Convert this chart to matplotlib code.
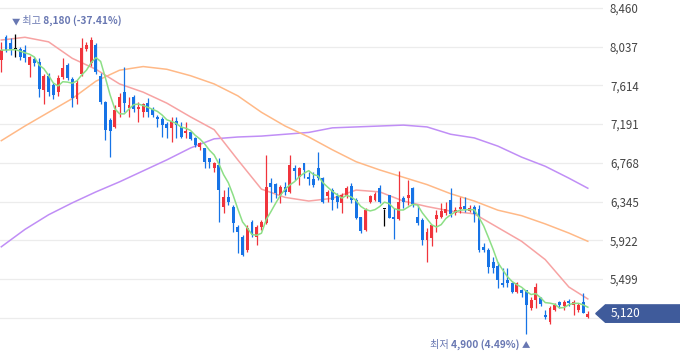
import numpy as np
import pandas as pd
import matplotlib
matplotlib.use("Agg")
import matplotlib.pyplot as plt
from matplotlib.patches import Polygon
from matplotlib.ticker import FixedLocator, FuncFormatter

plt.rcParams['font.family'] = ['Noto Sans CJK KR', 'DejaVu Sans']

# daily candles, oldest first
opens = [7890, 8140, 8080, 8010, 8010, 8000, 7840, 7900, 7870, 7560,
         7720, 7620, 7540, 7710, 7840, 7680, 7470, 7740, 8010, 7860,
         8060, 7720, 7430, 7240, 7160, 7380, 7540, 7370, 7490, 7360,
         7320, 7420, 7360, 7270, 7250, 7190, 7150, 7230, 7160, 7090,
         7100, 7040, 6940, 6930, 6820, 6710, 6740, 6290, 6390, 6290,
         6070, 5960, 5820, 6120, 5960, 6070, 6110, 6550, 6540, 6420,
         6500, 6450, 6710, 6610, 6770, 6610, 6590, 6710, 6600, 6410,
         6470, 6410, 6330, 6410, 6510, 6360, 6180, 6030, 6340, 6360,
         6490, 6260, 6420, 6180, 6150, 6380, 6380, 6490, 6180, 6140,
         5920, 5950, 6150, 6180, 6220, 6360, 6220, 6260, 6300, 6240,
         6290, 6260, 5850, 5820, 5680, 5640, 5450, 5490, 5450, 5360,
         5380, 5380, 5180, 5270, 5290, 5100, 5030, 5160, 5250, 5200,
         5260, 5210, 5160, 5250, 5080]
highs = [8090, 8170, 8130, 8180, 8030, 8060, 7940, 7920, 7910, 7740,
         7750, 7640, 7730, 7910, 7860, 7710, 7670, 8130, 8090, 8140,
         8080, 7750, 7440, 7260, 7400, 7530, 7820, 7490, 7510, 7430,
         7420, 7480, 7380, 7290, 7270, 7210, 7270, 7270, 7210, 7210,
         7120, 7050, 7000, 6930, 6820, 6780, 6820, 6470, 6500, 6310,
         6090, 5980, 6090, 6140, 6090, 6140, 6850, 6600, 6550, 6530,
         6560, 6850, 6740, 6720, 6770, 6670, 6670, 6890, 6610, 6470,
         6490, 6440, 6440, 6510, 6550, 6380, 6180, 6270, 6420, 6450,
         6530, 6260, 6420, 6270, 6680, 6410, 6580, 6500, 6310, 6170,
         6060, 6090, 6250, 6330, 6340, 6490, 6290, 6390, 6390, 6310,
         6310, 6310, 5890, 5840, 5740, 5680, 5620, 5620, 5470, 5470,
         5390, 5380, 5300, 5450, 5300, 5160, 5200, 5240, 5260, 5270,
         5280, 5270, 5240, 5350, 5150]
lows = [7760, 7980, 7950, 7920, 7890, 7870, 7710, 7830, 7490, 7410,
        7500, 7470, 7500, 7680, 7670, 7380, 7410, 7720, 7990, 7830,
        7740, 7410, 7020, 6830, 7150, 7270, 7320, 7270, 7320, 7210,
        7270, 7270, 7270, 7160, 7050, 7040, 7000, 7040, 7040, 7040,
        7020, 6940, 6910, 6710, 6710, 6670, 6120, 6220, 6310, 6010,
        5780, 5750, 5790, 5960, 5870, 6030, 6100, 6340, 6380, 6330,
        6420, 6440, 6580, 6530, 6600, 6530, 6500, 6580, 6330, 6340,
        6250, 6270, 6220, 6380, 6330, 6150, 6000, 6020, 6330, 6350,
        6330, 6080, 6170, 5940, 6140, 6270, 6310, 6290, 6090, 5870,
        5680, 5860, 6010, 6170, 6200, 6180, 6200, 6220, 6230, 6230,
        6120, 5790, 5790, 5560, 5560, 5400, 5410, 5410, 5350, 5350,
        5300, 4900, 5160, 5180, 5200, 5060, 5010, 5150, 5180, 5160,
        5200, 5100, 5140, 5130, 5070]
closes = [8000, 8000, 8010, 8010, 7920, 7910, 7920, 7860, 7570, 7720,
          7540, 7510, 7700, 7800, 7700, 7480, 7640, 8020, 8060, 8110,
          7760, 7430, 7130, 7120, 7350, 7490, 7420, 7400, 7360, 7380,
          7410, 7320, 7290, 7250, 7180, 7150, 7230, 7180, 7050, 7120,
          7030, 6960, 6980, 6780, 6780, 6770, 6470, 6390, 6340, 6110,
          6010, 5760, 6060, 5980, 6070, 6120, 6500, 6500, 6440, 6500,
          6450, 6740, 6680, 6710, 6690, 6590, 6530, 6600, 6340, 6450,
          6360, 6340, 6420, 6490, 6360, 6170, 6020, 6250, 6410, 6430,
          6340, 6260, 6170, 6150, 6340, 6340, 6420, 6320, 6110, 5920,
          6010, 6090, 6200, 6240, 6260, 6210, 6250, 6290, 6260, 6270,
          6210, 5820, 5820, 5630, 5620, 5490, 5430, 5450, 5360, 5450,
          5350, 5210, 5270, 5410, 5230, 5080, 5180, 5210, 5210, 5250,
          5240, 5250, 5210, 5130, 5120]

# moving averages (20, 60 and 120 day)
ma_idx = [0, 5, 10, 15, 20, 25, 30, 35, 40, 45, 50, 55, 60,
          65, 70, 75, 80, 85, 90, 95, 100, 105, 110, 115, 120, 124]
ma20 = [8110, 8140, 8090, 7910, 7790, 7630, 7540, 7420, 7270, 7130, 6800, 6480, 6390,
        6350, 6380, 6470, 6450, 6350, 6290, 6240, 6210, 6060, 5910, 5710, 5410, 5280]
ma60 = [7010, 7170, 7320, 7470, 7660, 7780, 7820, 7790, 7720, 7630, 7500, 7320, 7170,
        7050, 6910, 6780, 6690, 6610, 6530, 6430, 6350, 6250, 6190, 6100, 6000, 5910]
ma120 = [5850, 6040, 6200, 6330, 6450, 6560, 6680, 6800, 6930, 7030, 7050, 7060, 7080,
         7100, 7150, 7160, 7170, 7180, 7160, 7080, 7040, 6950, 6830, 6730, 6600, 6490]

y_ticks = [8460, 8037, 7614, 7191, 6768, 6345, 5922, 5499, 5076]
last_price = 5120
high_price, high_pct = 8180, -37.41
low_price, low_pct = 4900, 4.49

RED = '#f0343c'
BLUE = '#1673e6'
NOTE = '#6877b2'
TAG = '#3f5b9b'

fig = plt.figure(figsize=(6.8, 3.58), dpi=100)
ax = fig.add_axes([0, 0, 603 / 680, 1])

n = len(closes)
x = np.arange(n)
o, h, l, c = map(np.array, (opens, highs, lows, closes))
colors = np.where(c > o, RED, np.where(c < o, BLUE, '#000000'))

# grid
for t in y_ticks:
    ax.axhline(t, color='#ececec', lw=0.9, zorder=0)

# moving averages
ma5 = pd.Series(closes).rolling(5, min_periods=1).mean()
line_kw = dict(lw=1.1, solid_joinstyle='round')
ax.plot(ma_idx, ma120, color='#c08ef6', zorder=1, **line_kw)
ax.plot(ma_idx, ma60, color='#ffb987', zorder=1, **line_kw)
ax.plot(ma_idx, ma20, color='#f7a3a3', zorder=1, **line_kw)
ax.plot(x, ma5, color='#8ddf86', zorder=3, **line_kw)

# candles
ax.vlines(x, l, h, colors=colors, lw=0.9, zorder=2)
body = np.maximum(np.abs(c - o), 10)
ax.bar(x, body, bottom=np.minimum(o, c), width=0.62, color=colors, lw=0, zorder=2)

ax.set_xlim(-1.3 / 4.73, 601.7 / 4.73)
ax.set_ylim(8547.4 - 10.93 * 358, 8547.4)

# last grid line sits under the price tag, so it gets no label
ax.yaxis.tick_right()
ax.yaxis.set_major_locator(FixedLocator(y_ticks))
ax.yaxis.set_major_formatter(FuncFormatter(lambda v, p: '' if v == y_ticks[-1] else f'{v:,.0f}'))
ax.tick_params(axis='y', length=0, pad=5, labelsize=8.3, labelcolor='#444444')
ax.set_xticks([])
for s in ax.spines.values():
    s.set_visible(False)

# highest / lowest notes
hi_i = int(np.argmax(h))
t0 = ax.annotate('▼', xy=(hi_i, high_price), xytext=(-2.5, 5.5), textcoords='offset points',
                 ha='left', va='bottom', fontsize=6, color=NOTE)
t1 = ax.annotate(' 최고', xy=(1, 0), xycoords=t0, ha='left', va='bottom', fontsize=7.3, color=NOTE)
ax.annotate(f' {high_price:,} ({high_pct:.2f}%)', xy=(1, 0), xycoords=t1,
            ha='left', va='bottom', fontsize=7.3, color=NOTE, fontweight='bold')

lo_i = int(np.argmin(l))
t2 = ax.annotate('▲', xy=(lo_i, low_price), xytext=(3, -5), textcoords='offset points',
                 ha='right', va='top', fontsize=6, color=NOTE)
t3 = ax.annotate(f'{low_price:,} ({low_pct:.2f}%) ', xy=(0, 0), xycoords=t2,
                 ha='right', va='bottom', fontsize=7.3, color=NOTE, fontweight='bold')
ax.annotate('최저 ', xy=(0, 0), xycoords=t3, ha='right', va='bottom', fontsize=7.3, color=NOTE)

# current price tag
trans = ax.get_yaxis_transform()
half = 95
tag = Polygon([(0.988, last_price), (1.004, last_price + half), (1.13, last_price + half),
               (1.13, last_price - half), (1.004, last_price - half)],
              closed=True, transform=trans, clip_on=False, color=TAG, zorder=5)
ax.add_patch(tag)
ax.text(1.012, last_price, f'{last_price:,}', transform=trans, ha='left', va='center',
        fontsize=8.5, color='white', zorder=6, clip_on=False)

fig.savefig('out.png', dpi=100)
